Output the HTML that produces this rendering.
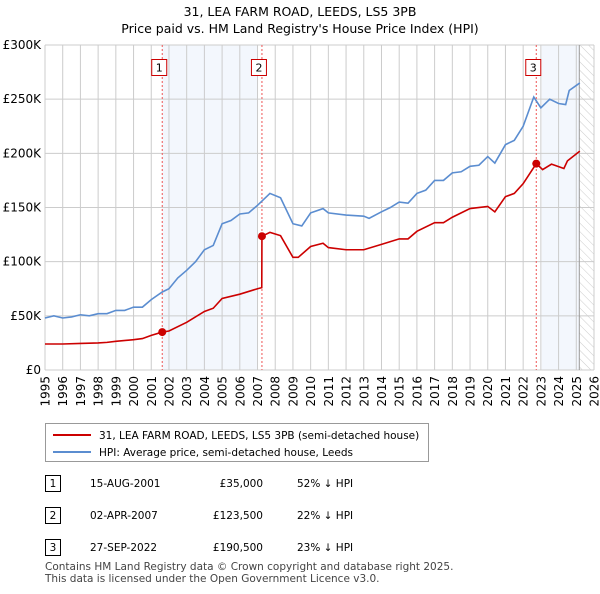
<!DOCTYPE html>
<html><head><meta charset="utf-8"><style>
body{margin:0;background:#fff;font-family:"DejaVu Sans",sans-serif;}
svg text{font-family:"DejaVu Sans",sans-serif;}
</style></head><body>
<svg width="600" height="590">
<text x="300" y="16" text-anchor="middle" font-size="12.5">31, LEA FARM ROAD, LEEDS, LS5 3PB</text>
<text x="300" y="33" text-anchor="middle" font-size="12.5">Price paid vs. HM Land Registry's House Price Index (HPI)</text>
<defs><pattern id="hatch" width="6" height="6" patternUnits="userSpaceOnUse" patternTransform="rotate(-45)"><line x1="0" y1="0" x2="0" y2="6" stroke="#ccc" stroke-width="1"/></pattern></defs>
<g id="plot"></g>
<g>
<rect x="45.5" y="423.5" width="383" height="38" fill="#fff" stroke="#999"/>
<line x1="53" y1="435" x2="91" y2="435" stroke="#c00" stroke-width="2"/>
<text x="99" y="439" font-size="10.5">31, LEA FARM ROAD, LEEDS, LS5 3PB (semi-detached house)</text>
<line x1="53" y1="452" x2="91" y2="452" stroke="#5b8dd0" stroke-width="2"/>
<text x="99" y="456" font-size="10.5">HPI: Average price, semi-detached house, Leeds</text>
</g>
<g font-size="10.5">
<rect x="45.5" y="475.5" width="15" height="16" fill="#fff" stroke="#000"/><text x="53" y="487" text-anchor="middle">1</text>
<text x="90" y="487">15-AUG-2001</text><text x="263" y="487" text-anchor="end">£35,000</text><text x="297" y="487">52% ↓ HPI</text>
<rect x="45.5" y="507.5" width="15" height="16" fill="#fff" stroke="#000"/><text x="53" y="519" text-anchor="middle">2</text>
<text x="90" y="519">02-APR-2007</text><text x="263" y="519" text-anchor="end">£123,500</text><text x="297" y="519">22% ↓ HPI</text>
<rect x="45.5" y="539.5" width="15" height="16" fill="#fff" stroke="#000"/><text x="53" y="551" text-anchor="middle">3</text>
<text x="90" y="551">27-SEP-2022</text><text x="263" y="551" text-anchor="end">£190,500</text><text x="297" y="551">23% ↓ HPI</text>
</g>
<text x="45" y="570" font-size="10.5" fill="#444">Contains HM Land Registry data © Crown copyright and database right 2025.</text>
<text x="45" y="582" font-size="10.5" fill="#444">This data is licensed under the Open Government Licence v3.0.</text>
</svg>
<script>
const hpiYears=[1995,1995.5,1996,1996.5,1997,1997.5,1998,1998.5,1999,1999.5,2000,2000.5,2001,2001.62,2002,2002.5,2003,2003.5,2004,2004.5,2005,2005.5,2006,2006.5,2007,2007.7,2008.3,2009,2009.5,2010,2010.7,2011,2012,2013,2013.3,2014,2014.5,2015,2015.5,2016,2016.5,2017,2017.5,2018,2018.5,2019,2019.5,2020,2020.4,2021,2021.5,2022,2022.6,2023,2023.5,2024,2024.4,2024.6,2025.2];
const hpiValues=[48,50,48,49,51,50,52,52,55,55,58,58,65,72,75,85,92,100,111,115,135,138,144,145,152,163,159,135,133,145,149,145,143,142,140,146,150,155,154,163,166,175,175,182,183,188,189,197,191,208,212,225,252,242,250,246,245,258,265];
const ppYears=[1995,1996,1997,1998,1998.5,1999,2000,2000.5,2001,2001.62,2002,2003,2004,2004.5,2005,2006,2007,2007.24,2007.25,2007.7,2008.3,2009,2009.3,2010,2010.7,2011,2012,2013,2014,2015,2015.5,2016,2017,2017.5,2018,2019,2020,2020.4,2021,2021.5,2022,2022.74,2023.1,2023.6,2024.3,2024.5,2025.2];
const ppValues=[24,24,24.5,25,25.5,26.5,28,29,32,35,36,44,54,57,66,70,75,76,123.5,127,124,104,104,114,117,113,111,111,116,121,121,128,136,136,141,149,151,146,160,163,172,190.5,185,190,186,193,202];
const saleYears=[2001.62,2007.25,2022.74];
const saleValues=[35,123.5,190.5];
const saleLabels=["1","2","3"];
const yTicks=[0,50,100,150,200,250,300];
const yTickLabels=["£0","£50K","£100K","£150K","£200K","£250K","£300K"];
const x0=45,x1=594,y0=370,y1=45;
const X=y=>x0+(y-1995)*(x1-x0)/31;
const Y=v=>y0-v*(y0-y1)/300;
const g=document.getElementById('plot');const NS='http://www.w3.org/2000/svg';
function el(t,a,p){const e=document.createElementNS(NS,t);for(const k in a)e.setAttribute(k,a[k]);(p||g).appendChild(e);return e;}
let r=el('rect',{x:X(2001.62),y:y1,width:X(2007.0)-X(2001.62),height:y0-y1,fill:'#eef3fc',opacity:0.7});


r=el('rect',{x:X(2023.05),y:y1,width:X(2025.17)-X(2023.05),height:y0-y1,fill:'#eef3fc',opacity:0.7});


r=el('rect',{x:X(2025.17),y:y1,width:x1-X(2025.17),height:y0-y1,fill:'url(#hatch)'});


for(let yr=1995;yr<=2026;yr++){
 let l=el('line',{x1:X(yr),x2:X(yr),y1:y1,y2:y0,stroke:'#ccc'});
 
 
 let t=el('text',{x:0,y:0,'text-anchor':'end','font-size':12,transform:`translate(${X(yr)+4.5},376) rotate(-90)`});t.textContent=yr;
 
 
}
yTicks.forEach((v,i)=>{
 let l=el('line',{x1:x0,x2:x1,y1:Y(v),y2:Y(v),stroke:'#ccc'});
 
 
 let t=el('text',{x:41,y:Y(v)+4,'text-anchor':'end','font-size':12});t.textContent=yTickLabels[i];
 
 
});
let vl=el('line',{x1:X(2025.17),x2:X(2025.17),y1:y1,y2:y0,stroke:'#999'});


saleYears.forEach((s,i)=>{
 let l=el('line',{x1:X(s),x2:X(s),y1:y1,y2:y0,stroke:'#e55','stroke-dasharray':'2,2'});
 
 
 let b=el('rect',{x:X(s)-10.5,y:59.5,width:15,height:16,fill:'#fff',stroke:'#c00'});
 
 
 let t=el('text',{x:X(s)-3,y:71.5,'text-anchor':'middle','font-size':11});t.textContent=saleLabels[i];
 
 
});
let p=el('polyline',{points:hpiYears.map((y,i)=>X(y)+','+Y(hpiValues[i])).join(' '),fill:'none',stroke:'#5b8dd0','stroke-width':1.6});


p=el('polyline',{points:ppYears.map((y,i)=>X(y)+','+Y(ppValues[i])).join(' '),fill:'none',stroke:'#c00','stroke-width':1.6});


saleYears.forEach((s,i)=>{
 let c=el('circle',{cx:X(s),cy:Y(saleValues[i]),r:4,fill:'#c00'});
 
 
});
</script>
</body></html>
